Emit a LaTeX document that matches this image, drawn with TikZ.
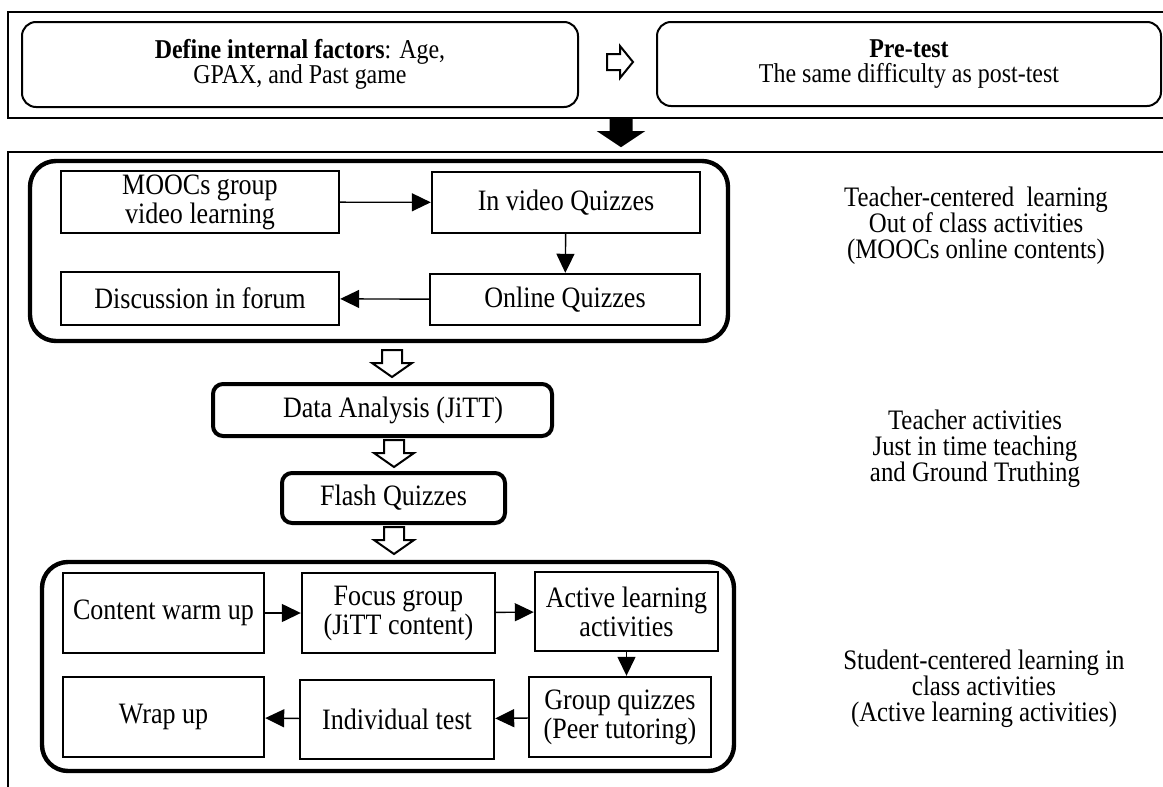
\documentclass[tikz,border=0pt]{standalone}
\usepackage{fontspec}
\setmainfont{Liberation Serif}[FakeStretch=0.88]
\usetikzlibrary{arrows.meta}

% block arrows between the stages
\tikzset{
    downarrow/.pic={
        \draw[pic actions, line width=1pt, line join=miter]
            (-10,0) -- (10,0) -- (10,13) -- (20,13) -- (0,27) -- (-20,13) -- (-10,13) -- cycle;
    },
    rightarrow/.pic={
        \draw[pic actions, line width=1pt, line join=miter]
            (0,-8) -- (13,-8) -- (13,-16) -- (26,0) -- (13,16) -- (13,8) -- (0,8) -- cycle;
    }
}

\begin{document}
\begin{tikzpicture}[x=0.5pt, y=-0.5pt,
        font=\fontsize{14.8}{14.5}\selectfont,
        frame/.style={line width=1pt},
        roundbox/.style={draw, line width=1pt, rounded corners=7pt, align=center, inner sep=0pt,
            font=\fontsize{13.6}{12.5}\selectfont},
        group/.style={draw, line width=2.2pt, rounded corners=13pt},
        stage/.style={draw, line width=2pt, rounded corners=5pt, inner sep=0pt},
        box/.style={draw, line width=1.2pt, align=center, inner sep=0pt},
        flow/.style={line width=0.7pt, -{Triangle[length=9.5pt,width=9pt]}},
        note/.style={align=center, font=\fontsize{14.1}{13}\selectfont}]
    \useasboundingbox (0,0) rectangle (1163,787);

    % Frames
    \draw[frame] (1170,12) -- (8,12) -- (8,118) -- (1170,118);
    \draw[frame] (1170,152) -- (8,152) -- (8,795);

    % Before the course
    \node[roundbox, minimum width=278pt, minimum height=42.5pt] (factors) at (300,64.5)
        {\textbf{Define internal factors}: Age,\\ GPAX, and Past game};
    \pic[fill=white] at (607,62) {rightarrow};
    \node[roundbox, minimum width=252pt, minimum height=42pt] (pretest) at (909,64)
        {\textbf{Pre-test}\\ The same difficulty as post-test};
    \pic[fill=black, xscale=1.05] at (621,119) {downarrow};

    % Out of class (MOOCs)
    \draw[group] (30,161) rectangle (728,341);
    \node[box, minimum width=139pt, minimum height=31pt] (mooc) at (200,202) {MOOCs group\\ video learning};
    \node[box, minimum width=134pt, minimum height=30.5pt] (quizvideo) at (566,202.5) {In video Quizzes};
    \node[box, minimum width=135pt, minimum height=25.5pt] (quizonline) at (565,299.5) {Online Quizzes};
    \node[box, minimum width=139pt, minimum height=26.5pt] (forum) at (200,298.5) {Discussion in forum};
    \draw[flow] (mooc) -- (quizvideo);
    \draw[flow] (quizvideo) -- (quizonline);
    \draw[flow] (quizonline) -- (forum);

    \node[note] (outclass) at (976,226) {Teacher-centered\ \ learning\\ Out of class activities\\ (MOOCs online contents)};

    % Teacher activities
    \pic[fill=white] at (392,350) {downarrow};
    \node[stage, minimum width=169.5pt, minimum height=26pt] (analysis) at (382.5,410) {\hspace*{10.5pt}Data Analysis (JiTT)};
    \pic[fill=white] at (394,440) {downarrow};
    \node[stage, minimum width=111.5pt, minimum height=25pt] (flash) at (393.5,498) {Flash Quizzes};
    \pic[fill=white] at (394,527) {downarrow};

    \node[note] (teacher) at (975,449) {Teacher activities\\ Just in time teaching\\ and Ground Truthing};

    % In class activities
    \draw[group] (42,562) rectangle (734,771);
    \node[box, minimum width=100.5pt, minimum height=40pt] (warmup) at (163.5,613) {Content warm up};
    \node[box, minimum width=96.5pt, minimum height=40pt] (focus) at (398.5,613) {Focus group\\ (JiTT content)};
    \node[box, minimum width=91.5pt, minimum height=39.5pt] (active) at (626.5,611.5) {Active learning\\ activities};
    \node[box, minimum width=91pt, minimum height=40pt] (peer) at (620,717) {Group quizzes\\ (Peer tutoring)};
    \node[box, minimum width=97pt, minimum height=39.5pt] (indiv) at (397,719.5) {Individual test};
    \node[box, minimum width=100.5pt, minimum height=40pt] (wrapup) at (163.5,717) {Wrap up};
    \draw[flow] (warmup) -- (focus);
    \draw[flow] (focus) -- (active);
    \draw[flow] (active.south) -- (active.south |- peer.north);
    \draw[flow] (peer) -- (indiv);
    \draw[flow] (indiv) -- (wrapup);

    \node[note] (inclass) at (984,689) {Student-centered learning in\\ class activities\\ (Active learning activities)};
\end{tikzpicture}
\end{document}
